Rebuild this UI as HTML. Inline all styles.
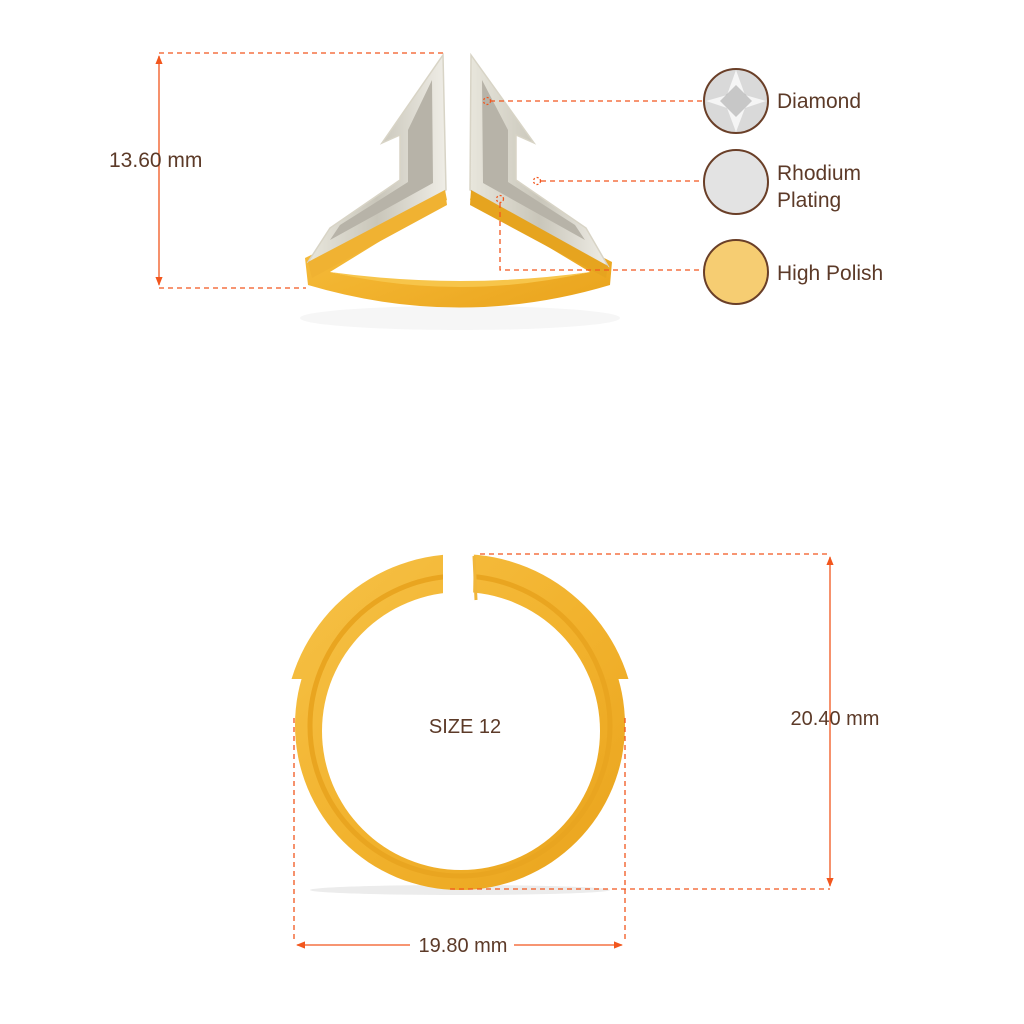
<!DOCTYPE html>
<html><head><meta charset="utf-8"><style>
html,body{margin:0;padding:0;background:#fff;}
svg{display:block;}
text{font-family:"Liberation Sans",sans-serif;fill:#5c3a28;}
</style></head><body>
<svg width="1024" height="1024" viewBox="0 0 1024 1024" xmlns="http://www.w3.org/2000/svg">
<defs>
<linearGradient id="g1" x1="0" y1="0" x2="1" y2="1">
<stop offset="0" stop-color="#f6c248"/><stop offset="0.5" stop-color="#f2b32e"/><stop offset="1" stop-color="#e9a31c"/></linearGradient>
<linearGradient id="s1" x1="0" y1="0" x2="1" y2="0">
<stop offset="0" stop-color="#e8e6dc"/><stop offset="0.5" stop-color="#c9c6ba"/><stop offset="1" stop-color="#efede6"/></linearGradient>
<clipPath id="topc"><rect x="0" y="0" width="1024" height="679"/></clipPath>
<clipPath id="botc"><rect x="0" y="679" width="1024" height="400"/></clipPath>
<marker id="ar" viewBox="0 0 10 10" refX="9" refY="5" markerWidth="7" markerHeight="7" orient="auto-start-reverse"><path d="M0,1 L10,5 L0,9 z" fill="#f2561d"/></marker>
</defs>

<!-- TOP RING -->
<ellipse cx="460" cy="318" rx="160" ry="12" fill="#f6f6f6"/>
<path d="M305,258 L445,190 L447,200 L330,272 Q460,300 590,272 L470,200 L472,190 L612,262 L610,285 Q460,330 308,285 Z" fill="url(#g1)"/>
<path d="M330,272 Q460,302 590,272 Q460,290 330,272 Z" fill="#f7c54a"/>
<path d="M443,55 L446,190 L318,262 L308,262 L330,228 L400,180 L400,135 L382,143 Z" fill="url(#s1)" stroke="#d8d4c6" stroke-width="1.5"/>
<path d="M432,80 L433,183 L330,240 L340,225 L408,182 L408,130 Z" fill="#b7b3a8"/>
<path d="M471,55 L470,190 L598,262 L608,266 L586,228 L516,180 L516,135 L534,143 Z" fill="url(#s1)" stroke="#d8d4c6" stroke-width="1.5"/>
<path d="M482,80 L483,183 L585,240 L575,225 L508,182 L508,130 Z" fill="#b7b3a8"/>
<path d="M445,190 L447,205 L312,278 L308,262 Z" fill="#f0b232"/>
<path d="M471,190 L470,205 L606,278 L608,266 Z" fill="#e6a41f"/>

<!-- top dims -->
<g stroke="#f2561d" stroke-width="1.3" fill="none">
<line x1="159" y1="53" x2="443" y2="53" stroke-dasharray="5,4"/>
<line x1="159" y1="288" x2="306" y2="288" stroke-dasharray="5,4"/>
<line x1="159" y1="56" x2="159" y2="285" marker-start="url(#ar)" marker-end="url(#ar)"/>
<line x1="490" y1="101" x2="704" y2="101" stroke-dasharray="5,4"/>
<line x1="541" y1="181" x2="704" y2="181" stroke-dasharray="5,4"/>
<polyline points="500,203 500,270 704,270" stroke-dasharray="5,4"/>
<circle cx="487" cy="101" r="3.5" stroke-dasharray="2,2"/>
<circle cx="537" cy="181" r="3.5" stroke-dasharray="2,2"/>
<circle cx="500" cy="199" r="3.5" stroke-dasharray="2,2"/>
</g>
<text x="109" y="167" font-size="21">13.60 mm</text>

<!-- legend -->
<circle cx="736" cy="101" r="32" fill="#d9d9d9" stroke="#6a3f28" stroke-width="2"/>
<path d="M736,70 L745,95 L766,101 L745,108 L736,132 L727,108 L706,101 L727,95 Z" fill="#f5f5f5"/>
<path d="M736,85 L752,101 L736,117 L720,101 Z" fill="#9a9a9a" opacity="0.5"/>
<circle cx="736" cy="182" r="32" fill="#e3e3e3" stroke="#6a3f28" stroke-width="2"/>
<circle cx="736" cy="272" r="32" fill="#f6cd72" stroke="#6a3f28" stroke-width="2"/>
<text x="777" y="108" font-size="21">Diamond</text>
<text x="777" y="180" font-size="21">Rhodium</text>
<text x="777" y="207" font-size="21">Plating</text>
<text x="777" y="280" font-size="21">High Polish</text>

<!-- BOTTOM RING -->
<ellipse cx="460" cy="890" rx="150" ry="5" fill="#ececec"/>
<g clip-path="url(#topc)"><circle cx="460" cy="730" r="176" fill="url(#g1)"/></g>
<g clip-path="url(#botc)"><circle cx="460" cy="725" r="165" fill="url(#g1)"/></g>
<circle cx="460" cy="726" r="150" fill="none" stroke="#e9a520" stroke-width="5"/>
<circle cx="461" cy="731" r="139" fill="#fff"/>
<path d="M443,548 L474,548 L473,600 L443,600 Z" fill="#fff"/>
<path d="M474,556 L476,600" stroke="#f0b63b" stroke-width="3"/>
<text x="465" y="733" font-size="20" text-anchor="middle">SIZE 12</text>

<g stroke="#f2561d" stroke-width="1.3" fill="none">
<line x1="480" y1="554" x2="830" y2="554" stroke-dasharray="5,4"/>
<line x1="450" y1="889" x2="830" y2="889" stroke-dasharray="5,4"/>
<line x1="830" y1="557" x2="830" y2="886" marker-start="url(#ar)" marker-end="url(#ar)"/>
<line x1="294" y1="718" x2="294" y2="942" stroke-dasharray="5,4"/>
<line x1="625" y1="718" x2="625" y2="942" stroke-dasharray="5,4"/>
<line x1="297" y1="945" x2="410" y2="945" marker-start="url(#ar)"/>
<line x1="514" y1="945" x2="622" y2="945" marker-end="url(#ar)"/>
</g>
<text x="835" y="725" font-size="20" text-anchor="middle">20.40 mm</text>
<text x="463" y="952" font-size="20" text-anchor="middle">19.80 mm</text>
</svg>
</body></html>
